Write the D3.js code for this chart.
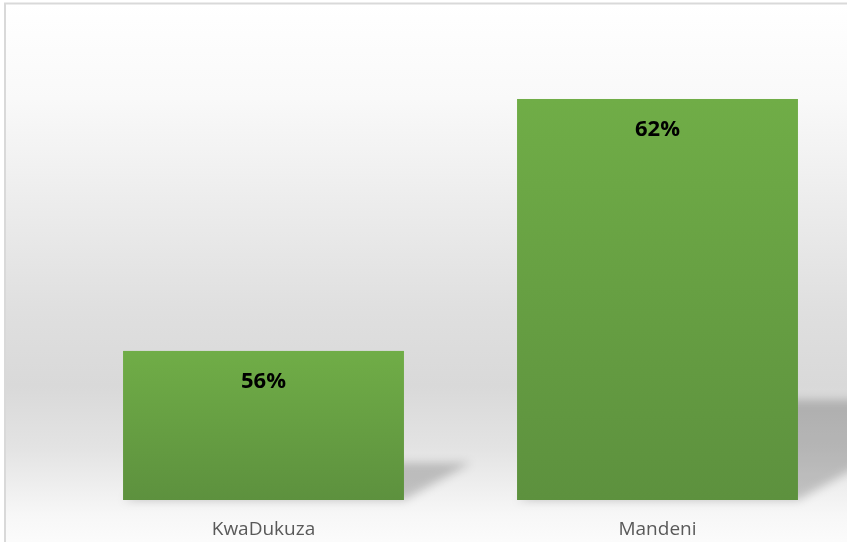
<!DOCTYPE html>
<html>
<head>
<meta charset="utf-8">
<script src="https://cdn.jsdelivr.net/npm/d3@7"></script>
<style>
  html, body { margin: 0; padding: 0; background: #ffffff; }
  svg { display: block; }
</style>
</head>
<body>
<div id="chart"></div>
<script>
// Chart data
const municipalities = ["KwaDukuza", "Mandeni"];
const shares = [56, 62];          // percent
const valueAxisMin = 52.45;       // axis does not start at zero
const valueAxisMax = 64;

const width = 847, height = 542;
const baseY = 500;

const svg = d3.select("#chart").append("svg")
    .attr("width", width)
    .attr("height", height);

const defs = svg.append("defs");

// Background gradient of the plot area (white -> grey -> white)
const bg = defs.append("linearGradient")
    .attr("id", "bgGrad")
    .attr("x1", 0).attr("y1", 0).attr("x2", 0).attr("y2", 1);
[[0, "#ffffff"], [0.17, "#f9f9f9"], [0.36, "#ececec"], [0.55, "#dfdfdf"],
 [0.68, "#d9d9d9"], [0.79, "#e3e3e3"], [0.91, "#f7f7f7"], [1, "#ffffff"]]
    .forEach(s => bg.append("stop").attr("offset", s[0]).attr("stop-color", s[1]));

// Bar fill gradient
const barGrad = defs.append("linearGradient")
    .attr("id", "barGrad")
    .attr("x1", 0).attr("y1", 0).attr("x2", 0).attr("y2", 1);
barGrad.append("stop").attr("offset", 0).attr("stop-color", "#70ad47");
barGrad.append("stop").attr("offset", 1).attr("stop-color", "#5d913e");

// Blur for the perspective shadows
defs.append("filter")
    .attr("id", "shadowBlur")
    .attr("x", "-50%").attr("y", "-50%").attr("width", "200%").attr("height", "200%")
    .append("feGaussianBlur").attr("stdDeviation", 5);

// Chart area with its frame
svg.append("rect")
    .attr("x", 5).attr("y", 3.5)
    .attr("width", width + 20).attr("height", height + 20)
    .attr("fill", "url(#bgGrad)")
    .attr("stroke", "#d9d9d9")
    .attr("stroke-width", 2);

// Scales
const xScale = d3.scaleBand()
    .domain(municipalities)
    .range([66.5, 854.5])
    .paddingInner(0.287)
    .paddingOuter(0.1435);

const yScale = d3.scaleLinear()
    .domain([valueAxisMin, valueAxisMax])
    .range([baseY, 15]);

const data = municipalities.map((m, i) => ({ name: m, value: shares[i] }));

// Perspective shadows: bar sheared to the back-right and flattened
svg.append("g")
    .attr("filter", "url(#shadowBlur)")
    .selectAll("path")
    .data(data)
    .enter()
    .append("path")
    .attr("d", function (d) {
        const x0 = xScale(d.name), x1 = x0 + xScale.bandwidth();
        const h = baseY - yScale(d.value);
        const dx = 0.45 * h, dy = 0.25 * h;
        return "M" + x0 + "," + baseY + "L" + x1 + "," + baseY +
               "L" + (x1 + dx) + "," + (baseY - dy) + "L" + (x0 + dx) + "," + (baseY - dy) + "Z";
    })
    .attr("fill", "#000000")
    .attr("opacity", 0.2);

// Bars
svg.append("g")
    .selectAll("rect")
    .data(data)
    .enter()
    .append("rect")
    .attr("x", d => xScale(d.name))
    .attr("y", d => yScale(d.value))
    .attr("width", xScale.bandwidth())
    .attr("height", d => baseY - yScale(d.value))
    .attr("fill", "url(#barGrad)");

// Value labels inside the bars
svg.append("g")
    .selectAll("text")
    .data(data)
    .enter()
    .append("text")
    .attr("x", d => xScale(d.name) + xScale.bandwidth() / 2)
    .attr("y", d => yScale(d.value) + 37)
    .attr("text-anchor", "middle")
    .style("font-family", "'Open Sans', sans-serif")
    .style("font-weight", "bold")
    .style("font-size", "22px")
    .style("fill", "#000000")
    .text(d => d.value + "%");

// Category axis labels
svg.append("g")
    .selectAll("text")
    .data(municipalities)
    .enter()
    .append("text")
    .attr("x", d => xScale(d) + xScale.bandwidth() / 2)
    .attr("y", 535)
    .attr("text-anchor", "middle")
    .style("font-family", "'Open Sans', sans-serif")
    .style("font-size", "19px")
    .style("fill", "#595959")
    .text(d => d);
</script>
</body>
</html>
